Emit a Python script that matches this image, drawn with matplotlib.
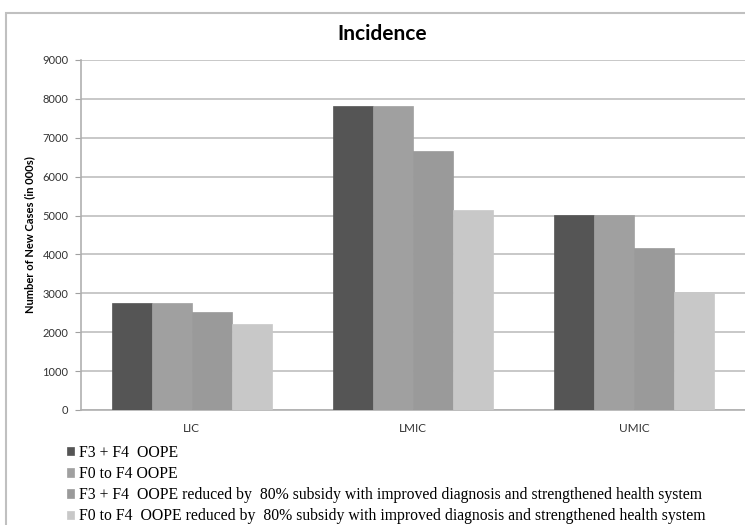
import numpy as np
import matplotlib.pyplot as plt
from matplotlib.patches import Rectangle

categories = ["LIC", "LMIC", "UMIC"]
series_names = [
    "F3 + F4  OOPE",
    "F0 to F4 OOPE",
    "F3 + F4  OOPE reduced by  80% subsidy with improved diagnosis and strengthened health system",
    "F0 to F4  OOPE reduced by  80% subsidy with improved diagnosis and strengthened health system",
]
f3f4 = [2760, 7820, 5010]
f0f4 = [2760, 7820, 5010]
f3f4_reduced = [2530, 6650, 4160]
f0f4_reduced = [2220, 5140, 3040]
yticks = [0, 1000, 2000, 3000, 4000, 5000, 6000, 7000, 8000, 9000]

colors = ["#555555", "#a0a0a0", "#9a9a9a", "#c8c8c8"]

fig = plt.figure(figsize=(7.45, 5.25), dpi=100)
ax = fig.add_axes([81 / 745, 115 / 525, 1 - 81 / 745, 350 / 525])

x = np.arange(len(categories))
w = 0.181
allvals = [f3f4, f0f4, f3f4_reduced, f0f4_reduced]
handles = []
for i, vals in enumerate(allvals):
    b = ax.bar(x + (i - 1.5) * w, vals, w, color=colors[i], edgecolor=colors[i],
               linewidth=0.5, zorder=3, label=series_names[i])
    handles.append(b)

ax.set_xlim(-0.5, 2.5)
ax.set_ylim(0, 9000)
ax.set_yticks(yticks)
ax.set_yticklabels([str(t) for t in yticks], fontsize=8, color="#333333",
                   family="Lato")
ax.set_xticks(x)
ax.set_xticklabels(categories, fontsize=8.5, color="#333333", family="Lato")
ax.tick_params(axis="x", length=0, pad=9)
ax.tick_params(axis="y", length=4, color="#a0a0a0", pad=5)
ax.grid(axis="y", color="#bfbfbf", linewidth=1.2, zorder=0)
for s in ["top", "right"]:
    ax.spines[s].set_visible(False)
for s in ["left", "bottom"]:
    ax.spines[s].set_color("#b0b0b0")
    ax.spines[s].set_linewidth(1.2)

ax.set_ylabel("Number of New Cases (in 000s)", fontsize=8, fontweight="bold",
              family="Lato", labelpad=5)
fig.text(382 / 745, 1 - 34 / 525, "Incidence", ha="center", va="center",
         fontsize=15, fontweight="bold", family="Lato")

fig.legend(handles=handles, labels=series_names, loc="upper left",
           bbox_to_anchor=(59 / 745, 1 - 437 / 525), frameon=False,
           prop={"family": "Liberation Serif", "size": 11.3},
           handlelength=0.45, handleheight=0.45, handletextpad=0.35,
           labelspacing=0.33, borderpad=0)

fig.patches.append(Rectangle((6 / 745, -0.1), 1.2, 1 - 13 / 525 + 0.1,
                             transform=fig.transFigure, fill=False,
                             edgecolor="#c0c0c0", linewidth=1.5))

fig.savefig("out.png", dpi=100)
